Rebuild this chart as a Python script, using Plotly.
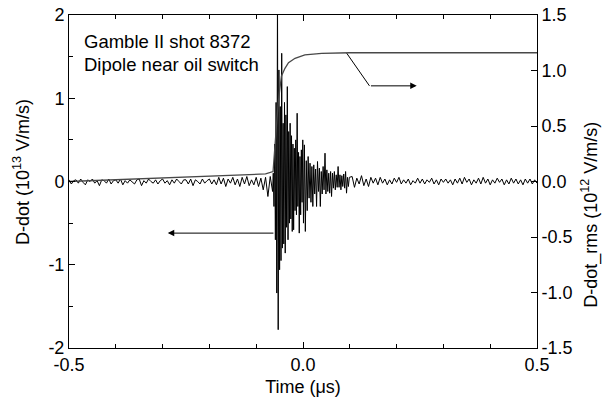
import plotly.graph_objects as go

# ---- data ----
t_pre = [-0.500,-0.495,-0.490,-0.485,-0.480,-0.475,-0.470,-0.465,-0.460,-0.455,
         -0.450,-0.445,-0.440,-0.435,-0.430,-0.425,-0.420,-0.415,-0.410,-0.405,
         -0.400,-0.395,-0.390,-0.385,-0.380,-0.375,-0.370,-0.365,-0.360,-0.355,
         -0.350,-0.345,-0.340,-0.335,-0.330,-0.325,-0.320,-0.315,-0.310,-0.305,
         -0.300,-0.295,-0.290,-0.285,-0.280,-0.275,-0.270,-0.265,-0.260,-0.255,
         -0.250,-0.245,-0.240,-0.235,-0.230,-0.225,-0.220,-0.215,-0.210,-0.205,
         -0.200,-0.195,-0.190,-0.185,-0.180,-0.175,-0.170,-0.165,-0.160,-0.155,
         -0.150,-0.145,-0.140,-0.135,-0.130,-0.125,-0.120,-0.115,-0.110,-0.105,
         -0.100,-0.095,-0.090,-0.085,-0.080,-0.075,-0.070,-0.065]
v_pre = [0.02,-0.03,0.01,0.02,-0.02,0.03,-0.01,-0.04,0.02,0.00,
         0.03,-0.02,0.01,-0.05,0.02,0.01,-0.02,0.03,-0.03,0.01,
         0.02,-0.02,0.03,-0.04,0.01,-0.02,0.02,0.00,-0.03,0.02,
         0.03,-0.05,0.01,-0.02,0.03,0.00,-0.02,0.02,-0.03,0.01,
         0.03,-0.02,0.01,-0.04,0.02,-0.02,0.03,0.00,-0.03,0.02,
         0.02,-0.03,0.03,-0.05,0.02,0.00,-0.03,0.03,-0.02,0.01,
         0.03,-0.03,0.02,-0.04,0.05,-0.03,0.04,-0.06,0.03,-0.02,
         0.05,-0.04,0.03,-0.06,0.05,-0.03,0.06,-0.05,0.02,-0.04,
         0.05,-0.06,0.04,-0.10,0.05,-0.18,0.06,-0.12]

t_burst = [-0.0635,-0.0620,-0.0605,-0.0590,-0.0575,-0.0560,-0.0545,-0.0530,-0.0515,-0.0500,
           -0.0485,-0.0470,-0.0455,-0.0440,-0.0425,-0.0410,-0.0395,-0.0380,-0.0365,-0.0350,
           -0.0335,-0.0320,-0.0305,-0.0290,-0.0275,-0.0260,-0.0245,-0.0230,-0.0215,-0.0200,
           -0.0185,-0.0170,-0.0155,-0.0140,-0.0125,-0.0110,-0.0095,-0.0080,-0.0065,-0.0050,
           -0.0035,-0.0020,-0.0005,
           0.001,0.003,0.005,0.007,0.009,0.011,0.013,0.015,0.017,0.019,
           0.021,0.023,0.025,0.027,0.029,0.031,0.033,0.035,0.037,0.039,
           0.041,0.043,0.045,0.047,0.049,0.051,0.053,0.055,0.057,0.059,
           0.061,0.063,0.065,0.067,0.069,0.071,0.073,0.075,0.077,0.079,
           0.081,0.083,0.085,0.087,0.089,0.091,0.093,0.095,0.097,0.099]
v_burst = [0.10,-0.30,0.45,-0.70,0.95,-1.34,2.30,-1.78,1.34,-1.06,
           0.90,-0.95,1.54,-0.80,0.70,-0.75,0.95,-0.86,0.80,-0.55,
           1.14,-0.70,0.60,-0.50,0.70,-0.45,0.55,-0.60,0.45,-0.58,
           0.40,-0.35,0.50,-0.40,0.82,-0.30,0.35,-0.62,0.30,-0.40,
           0.38,-0.25,0.50,
           -0.50,0.44,-0.60,0.25,-0.35,0.30,-0.20,0.22,-0.25,0.18,
           -0.30,0.20,-0.15,0.15,-0.30,0.24,-0.12,0.16,-0.30,0.12,
           -0.15,0.18,-0.10,0.34,-0.15,0.14,-0.12,0.10,-0.14,0.12,
           -0.18,0.10,-0.08,0.12,-0.10,0.08,-0.07,0.18,-0.07,0.08,
           -0.10,0.07,-0.06,0.09,-0.08,0.12,-0.14,0.05,-0.06,0.05]

t_post = [0.105,0.110,0.115,0.120,0.125,0.130,0.135,0.140,0.145,0.150,
          0.155,0.160,0.165,0.170,0.175,0.180,0.185,0.190,0.195,0.200,
          0.205,0.210,0.215,0.220,0.225,0.230,0.235,0.240,0.245,0.250,
          0.255,0.260,0.265,0.270,0.275,0.280,0.285,0.290,0.295,0.300,
          0.305,0.310,0.315,0.320,0.325,0.330,0.335,0.340,0.345,0.350,
          0.355,0.360,0.365,0.370,0.375,0.380,0.385,0.390,0.395,0.400,
          0.405,0.410,0.415,0.420,0.425,0.430,0.435,0.440,0.445,0.450,
          0.455,0.460,0.465,0.470,0.475,0.480,0.485,0.490,0.495,0.500]
v_post = [0.06,-0.07,0.04,-0.03,0.07,-0.05,0.03,-0.06,0.05,-0.02,
          0.04,-0.04,0.05,-0.02,0.03,-0.04,0.02,-0.03,0.04,-0.01,
          0.05,-0.03,0.02,-0.02,0.03,-0.04,0.01,-0.02,0.04,-0.02,
          0.03,-0.03,0.02,-0.01,0.04,-0.03,0.02,-0.04,0.03,-0.01,
          0.03,-0.02,0.02,-0.04,0.03,-0.02,0.04,-0.03,0.05,-0.01,
          0.03,-0.04,0.02,-0.02,0.04,-0.03,0.05,-0.02,0.03,-0.04,
          0.02,-0.02,0.04,-0.01,0.03,-0.04,0.02,-0.03,0.04,-0.02,
          0.03,-0.03,0.02,-0.04,0.03,-0.02,0.03,-0.03,0.02,-0.02]

t_rms = [-0.5,-0.4,-0.3,-0.2,-0.12,-0.08,-0.064,-0.060,-0.056,-0.053,-0.049,-0.046,
         -0.0385,-0.031,-0.017,0.004,0.040,0.1,0.5]
v_rms = [0.0,0.015,0.03,0.045,0.06,0.068,0.09,0.35,0.55,0.71,0.85,0.95,
         1.02,1.07,1.11,1.14,1.155,1.16,1.16]

x_ticks = [-0.5, 0.0, 0.5]
x_ticklabels = ["-0.5", "0.0", "0.5"]
y_ticks = [-2, -1, 0, 1, 2]
y_ticklabels = ["-2", "-1", "0", "1", "2"]
y2_ticks = [-1.5, -1.0, -0.5, 0.0, 0.5, 1.0, 1.5]
y2_ticklabels = ["-1.5", "-1.0", "-0.5", "0.0", "0.5", "1.0", "1.5"]

label_lines = ["Gamble II shot 8372", "Dipole near oil switch"]
x_title = "Time (\u03bcs)"
y_title = "D-dot (10<sup>13</sup> V/m/s)"
y2_title = "D-dot_rms (10<sup>12</sup> V/m/s)"

t_sig = t_pre + t_burst + t_post
v_sig = v_pre + v_burst + v_post

FONT = "Arial, 'Liberation Sans', sans-serif"
FS = 18

fig = go.Figure()
fig.add_trace(go.Scatter(x=t_rms, y=v_rms, mode="lines", yaxis="y2",
                         line=dict(color="#484848", width=1.3), showlegend=False))
fig.add_trace(go.Scatter(x=t_sig, y=v_sig, mode="lines",
                         line=dict(color="black", width=1), showlegend=False))

# arrows
fig.add_shape(type="line", xref="x", yref="y", x0=0.0935, y0=1.54, x1=0.142, y1=1.149,
              line=dict(color="black", width=1))
fig.add_annotation(x=0.243, y=1.149, ax=0.142, ay=1.149, xref="x", yref="y",
                   axref="x", ayref="y", text="", showarrow=True, arrowhead=2,
                   arrowsize=1.3, arrowwidth=1, arrowcolor="black")
fig.add_annotation(x=-0.289, y=-0.62, ax=-0.06, ay=-0.62, xref="x", yref="y",
                   axref="x", ayref="y", text="", showarrow=True, arrowhead=2,
                   arrowsize=1.3, arrowwidth=1, arrowcolor="black")

fig.add_annotation(x=0.028, y=0.919, xref="paper", yref="paper", text=label_lines[0],
                   showarrow=False, xanchor="left", yanchor="middle",
                   font=dict(family=FONT, size=18.5, color="black"))
fig.add_annotation(x=0.028, y=0.850, xref="paper", yref="paper", text=label_lines[1],
                   showarrow=False, xanchor="left", yanchor="middle",
                   font=dict(family=FONT, size=18.5, color="black"))

# y-axis titles
fig.add_annotation(x=-0.100, y=0.529, xref="paper", yref="paper", text=y_title,
                   showarrow=False, textangle=-90, xanchor="center", yanchor="middle",
                   font=dict(family=FONT, size=FS, color="black"))
fig.add_annotation(x=1.113, y=0.40, xref="paper", yref="paper", text=y2_title,
                   showarrow=False, textangle=-90, xanchor="center", yanchor="middle",
                   font=dict(family=FONT, size=FS, color="black"))

axis_common = dict(showgrid=False, zeroline=False, showline=True, linecolor="black",
                   linewidth=1, ticks="inside", tickcolor="black", automargin=False,
                   tickfont=dict(family=FONT, size=FS, color="black"))

fig.update_layout(
    width=604, height=404,
    margin=dict(l=69, r=67, t=15, b=56),
    paper_bgcolor="white", plot_bgcolor="white",
    font=dict(family=FONT, size=FS, color="black"),
    xaxis=dict(range=[-0.5, 0.5], tickvals=x_ticks, ticktext=x_ticklabels,
               ticklen=6, mirror="ticks",
               minor=dict(dtick=0.1, ticks="inside", ticklen=4, tickcolor="black"),
               title=dict(text=x_title, standoff=6,
                          font=dict(family=FONT, size=FS)),
               **axis_common),
    yaxis=dict(range=[-2, 2], tickvals=y_ticks, ticktext=y_ticklabels, ticklen=6,
               minor=dict(dtick=0.5, ticks="inside", ticklen=4, tickcolor="black"),
               **axis_common),
    yaxis2=dict(range=[-1.5, 1.5], tickvals=y2_ticks, ticktext=y2_ticklabels, ticklen=6,
                overlaying="y", side="right",
                **axis_common),
)

fig.write_html("out.html", config={"displayModeBar": False},
               post_script="document.body.style.margin='0';document.body.style.overflow='hidden';")
